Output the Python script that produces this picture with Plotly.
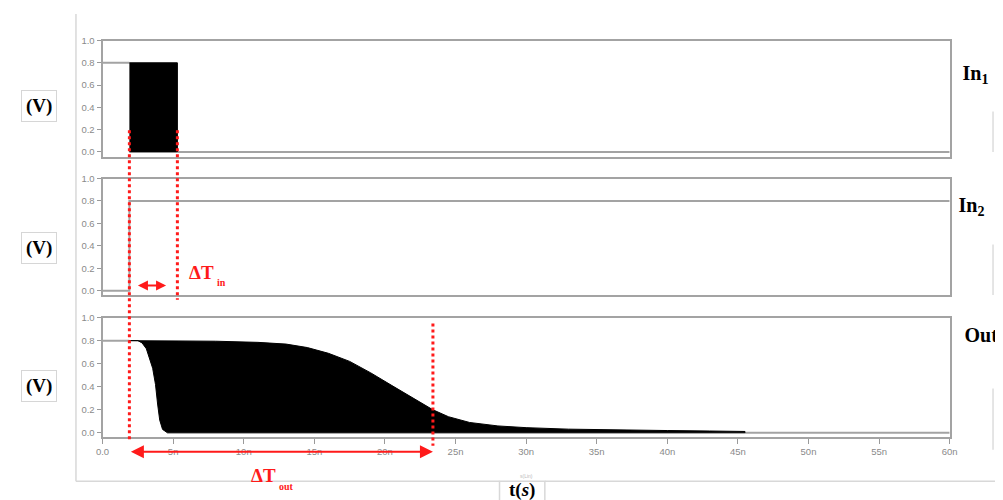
import plotly.graph_objects as go

W, H = 1003, 500

# ---------------- data (time in ns, voltage in V) ----------------
x_tick_vals = [0, 5, 10, 15, 20, 25, 30, 35, 40, 45, 50, 55, 60]
x_tick_text = ["0.0", "5n", "10n", "15n", "20n", "25n", "30n", "35n", "40n", "45n", "50n", "55n", "60n"]
y_tick_vals = [0.0, 0.2, 0.4, 0.6, 0.8, 1.0]
y_tick_text = ["0.0", "0.2", "0.4", "0.6", "0.8", "1.0"]
signal_names = ["In<sub>1</sub>", "In<sub>2</sub>", "Out"]

# In1: static level segments and fast-toggling burst envelope
in1_line_t = [0.0, 1.9, None, 5.3, 60.0]
in1_line_v = [0.8, 0.8, None, 0.0, 0.0]
in1_burst_t = [1.9, 5.3]
in1_burst_hi = [0.8, 0.8]
in1_burst_lo = [0.0, 0.0]

# In2: step
in2_t = [0.0, 1.9, 1.9, 60.0]
in2_v = [0.0, 0.0, 0.8, 0.8]

# Out: static segments and oscillation envelope
out_line_t = [0.0, 1.9, None, 45.5, 60.0]
out_line_v = [0.8, 0.8, None, 0.0, 0.0]
out_hi_t = [1.9, 5.0, 8.0, 11.0, 13.0, 14.5, 16.0, 17.5, 19.0, 20.5, 22.0, 23.4,
            24.5, 26.0, 28.0, 30.0, 33.0, 36.0, 40.0, 43.0, 45.5]
out_hi_v = [0.8, 0.8, 0.795, 0.785, 0.77, 0.74, 0.69, 0.62, 0.52, 0.41, 0.3, 0.2,
            0.14, 0.09, 0.06, 0.045, 0.032, 0.025, 0.02, 0.016, 0.012]
out_lo_t = [1.9, 2.5, 2.8, 3.1, 3.3, 3.55, 3.75, 3.9, 4.05, 4.25, 4.6, 45.5]
out_lo_v = [0.8, 0.8, 0.78, 0.73, 0.66, 0.56, 0.42, 0.25, 0.11, 0.03, 0.0, 0.0]

# delay markers
t_in_start, t_in_end = 1.9, 5.3
t_out_end = 23.4
dt_in_arrow = [2.4, 4.5]

# ---------------- helpers ----------------
def px(x):
    return x / W

def py(y):
    return 1 - y / H

GREY = "#a3a3a3"
RED = "#ff1a1a"
SERIF = "Liberation Serif, Times New Roman, serif"
SANS = "Liberation Sans, Arial, sans-serif"

fig = go.Figure()

def add_signal(line_t, line_v, xa, ya):
    fig.add_trace(go.Scatter(x=line_t, y=line_v, mode="lines", xaxis=xa, yaxis=ya,
                             line=dict(color=GREY, width=2), hoverinfo="skip",
                             showlegend=False, connectgaps=False))

def add_burst(t_hi, v_hi, t_lo, v_lo, xa, ya):
    xs = list(t_hi) + list(t_lo)[::-1]
    ys = list(v_hi) + list(v_lo)[::-1]
    fig.add_trace(go.Scatter(x=xs, y=ys, mode="lines", fill="toself", fillcolor="black",
                             line=dict(color="black", width=1), xaxis=xa, yaxis=ya,
                             hoverinfo="skip", showlegend=False))

add_signal(in1_line_t, in1_line_v, "x", "y")
add_burst(in1_burst_t, in1_burst_hi, in1_burst_t, in1_burst_lo, "x", "y")
add_signal(in2_t, in2_v, "x2", "y2")
add_signal(out_line_t, out_line_v, "x3", "y3")
add_burst(out_hi_t, out_hi_v, out_lo_t, out_lo_v, "x3", "y3")

# signal names on a full-page pixel overlay (so the last one is clipped at the page edge)
fig.add_trace(go.Scatter(x=[970, 966, 972], y=[70, 204, 336], mode="text",
                         text=["<b>%s</b>" % s for s in signal_names], textposition="middle right",
                         textfont=dict(family=SERIF, size=20, color="black"),
                         xaxis="x4", yaxis="y4", hoverinfo="skip", showlegend=False, cliponaxis=True))

# panel pixel extents (top, bottom)
panels = [(35, 153, -0.044), (175, 293, -0.038), (316, 437, -0.035)]
xdom = [px(97), px(957)]

layout = dict(width=W, height=H, margin=dict(l=0, r=0, t=0, b=0),
              paper_bgcolor="white", plot_bgcolor="rgba(0,0,0,0)", showlegend=False)

for i, (top, bot, ymin) in enumerate(panels, start=1):
    sfx = "" if i == 1 else str(i)
    last = (i == 3)
    layout["xaxis" + sfx] = dict(
        domain=xdom, range=[0, 60], anchor="y" + sfx, showgrid=False, zeroline=False,
        showline=True, mirror=True, linecolor=GREY, linewidth=2,
        tickmode="array", tickvals=x_tick_vals, ticktext=x_tick_text,
        ticks="outside" if last else "", ticklen=5, tickcolor="#9a9a9a", tickwidth=1,
        showticklabels=last, tickfont=dict(family=SANS, size=9.5, color="#8a8a8a"),
    )
    layout["yaxis" + sfx] = dict(
        domain=[py(bot), py(top)], range=[ymin, 1.0], anchor="x" + sfx, showgrid=False,
        zeroline=False, showline=True, mirror=True, linecolor=GREY, linewidth=2,
        tickmode="array", tickvals=y_tick_vals, ticktext=y_tick_text,
        ticks="outside", ticklen=4, tickcolor="#9a9a9a", tickwidth=1,
        tickfont=dict(family=SANS, size=9.5, color="#8a8a8a"),
    )
layout["xaxis4"] = dict(domain=[0, 1], range=[0, W], anchor="y4", visible=False, fixedrange=True)
layout["yaxis4"] = dict(domain=[0, 1], range=[H, 0], anchor="x4", visible=False, fixedrange=True)

shapes = []
# outer frame decorations
shapes.append(dict(type="line", xref="paper", yref="paper", x0=px(70), x1=px(70), y0=py(8), y1=py(482),
                   line=dict(color="#d8d8d8", width=1.5)))
shapes.append(dict(type="line", xref="paper", yref="paper", x0=px(70), x1=px(500), y0=py(482), y1=py(482),
                   line=dict(color="#d8d8d8", width=1.5)))
shapes.append(dict(type="line", xref="paper", yref="paper", x0=px(546), x1=px(1003), y0=py(482), y1=py(482),
                   line=dict(color="#d8d8d8", width=1.5)))
shapes.append(dict(type="rect", xref="paper", yref="paper", x0=px(500), x1=px(546), y0=py(505), y1=py(482),
                   line=dict(color="#d8d8d8", width=1.5)))
for (a, b) in [(107, 148), (242, 293), (388, 450)]:
    shapes.append(dict(type="line", xref="paper", yref="paper", x0=px(1001), x1=px(1001), y0=py(a), y1=py(b),
                       line=dict(color="#dddddd", width=1.5)))

# red dotted delay markers
for t, y0, y1 in [(t_in_start, 126, 441), (t_in_end, 126, 298), (t_out_end, 322, 446)]:
    shapes.append(dict(type="line", xref="x", yref="paper", x0=t, x1=t, y0=py(y0), y1=py(y1),
                       line=dict(color=RED, width=3, dash="dot")))
layout["shapes"] = shapes

ann = []
# (V) boxes
for cy in [101, 245, 385]:
    ann.append(dict(xref="paper", yref="paper", x=px(32), y=py(cy), text="<b>(V)</b>", showarrow=False,
                    font=dict(family=SERIF, size=19, color="black"), bgcolor="white",
                    bordercolor="#d6d6d6", borderwidth=1, borderpad=4, xanchor="center", yanchor="middle"))

# delta-T arrows
ann.append(dict(xref="x2", yref="y2", x=dt_in_arrow[1], y=0.045, axref="x2", ayref="y2",
                ax=dt_in_arrow[0], ay=0.045, showarrow=True, arrowside="end+start", arrowhead=2,
                arrowsize=1, arrowwidth=2, arrowcolor=RED, text=""))
ann.append(dict(xref="x3", yref="paper", x=t_out_end, y=py(452), axref="x3", ayref="pixel",
                ax=t_in_start, ay=0, showarrow=True, arrowside="end+start", arrowhead=2,
                arrowsize=1.3, arrowwidth=2, arrowcolor=RED, text=""))
# delta-T labels
ann.append(dict(xref="paper", yref="paper", x=px(183), y=py(270), text="<b>ΔT</b>", showarrow=False,
                font=dict(family=SERIF, size=19, color=RED), xanchor="left", yanchor="middle"))
ann.append(dict(xref="paper", yref="paper", x=px(211), y=py(280), text="<b>in</b>", showarrow=False,
                font=dict(family=SERIF, size=10, color=RED), xanchor="left", yanchor="middle"))
ann.append(dict(xref="paper", yref="paper", x=px(246), y=py(476), text="<b>ΔT</b>", showarrow=False,
                font=dict(family=SERIF, size=19, color=RED), xanchor="left", yanchor="middle"))
ann.append(dict(xref="paper", yref="paper", x=px(274), y=py(487), text="<b>out</b>", showarrow=False,
                font=dict(family=SERIF, size=10, color=RED), xanchor="left", yanchor="middle"))
# x label
ann.append(dict(xref="paper", yref="paper", x=px(523), y=py(491), text="<b>t(<i>s</i>)</b>", showarrow=False,
                font=dict(family=SERIF, size=19, color="black"), xanchor="center", yanchor="middle"))
ann.append(dict(xref="paper", yref="paper", x=px(527), y=py(477), text="s(Lin)", showarrow=False,
                font=dict(family=SANS, size=5, color="#bbbbbb"), xanchor="center", yanchor="middle"))
layout["annotations"] = ann

fig.update_layout(**layout)
fig.write_html("out.html")
